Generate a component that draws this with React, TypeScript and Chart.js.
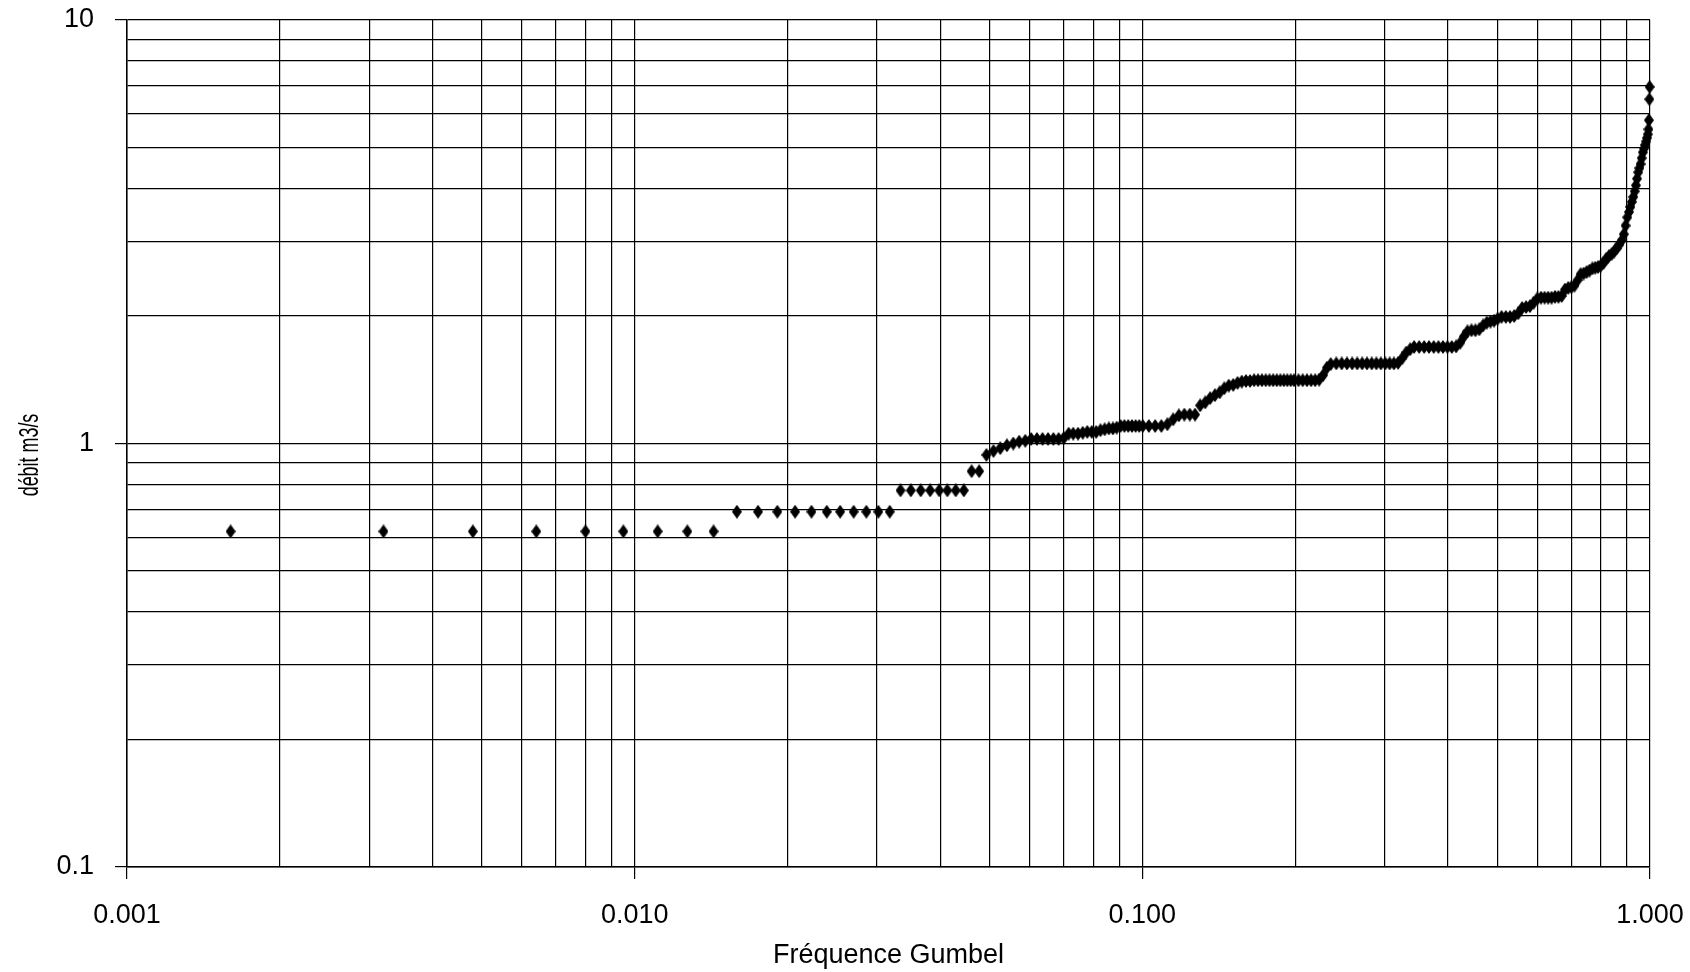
import React, { useEffect, useRef } from "react";
import { Chart, registerables } from "chart.js";
Chart.register(...registerables);

// Fréquence Gumbel (x)
const frequence = [
  0.0016, 0.0032, 0.0048, 0.0064, 0.008, 0.0095, 0.0111, 0.0127, 0.0143,
  0.0159, 0.0175, 0.0191, 0.0207, 0.0223, 0.0239, 0.0254, 0.027, 0.0286, 0.0302, 0.0318,
  0.0334, 0.035, 0.0366, 0.0382, 0.0398, 0.0413, 0.0429, 0.0445,
  0.0461, 0.0477,
  0.0493, 0.0509, 0.0525, 0.0541, 0.0557, 0.0572, 0.0588, 0.0604, 0.062, 0.0636,
  0.0652, 0.0668, 0.0684, 0.07, 0.0716, 0.0731, 0.0747, 0.0763, 0.0779, 0.0795,
  0.0811, 0.0827, 0.0843, 0.0859, 0.0875, 0.089, 0.0906, 0.0922, 0.0938, 0.0954,
  0.097, 0.0986, 0.1002,
  0.103, 0.106, 0.109, 0.112, 0.115, 0.118, 0.121, 0.124, 0.127, 0.13,
  0.133, 0.136, 0.139, 0.142, 0.145, 0.148, 0.151, 0.154, 0.157, 0.16,
  0.163, 0.166, 0.169, 0.172, 0.175, 0.178, 0.181, 0.184, 0.187, 0.19,
  0.193, 0.196, 0.199, 0.203, 0.207, 0.211, 0.215, 0.219, 0.223,
  0.227, 0.231, 0.235, 0.241, 0.247, 0.253, 0.259, 0.265, 0.271, 0.277,
  0.283, 0.289, 0.295, 0.301, 0.307, 0.313, 0.319, 0.325, 0.331, 0.337,
  0.343, 0.351, 0.359, 0.367, 0.375, 0.383, 0.391, 0.399, 0.407, 0.415,
  0.423, 0.43, 0.437, 0.445, 0.453, 0.461, 0.469, 0.477, 0.485, 0.493,
  0.501, 0.51, 0.52, 0.53, 0.54, 0.55, 0.56, 0.57, 0.58, 0.59,
  0.6, 0.61, 0.62, 0.63, 0.64, 0.65, 0.66, 0.67, 0.68, 0.69,
  0.7, 0.71, 0.72, 0.73, 0.74, 0.75, 0.76, 0.77, 0.78, 0.79,
  0.8, 0.81, 0.82, 0.83, 0.84, 0.85, 0.86, 0.87, 0.88, 0.888,
  0.895, 0.902, 0.909, 0.915, 0.921, 0.927, 0.933, 0.938, 0.943, 0.948,
  0.953, 0.958, 0.963, 0.968, 0.973, 0.978, 0.983, 0.987, 0.99, 0.993,
  0.995, 0.997, 0.9985,
];

// débit m3/s (y)
const debit = [
  0.62, 0.62, 0.62, 0.62, 0.62, 0.62, 0.62, 0.62, 0.62,
  0.69, 0.69, 0.69, 0.69, 0.69, 0.69, 0.69, 0.69, 0.69, 0.69, 0.69,
  0.775, 0.775, 0.775, 0.775, 0.775, 0.775, 0.775, 0.775,
  0.86, 0.86,
  0.94, 0.96, 0.975, 0.99, 1.0, 1.01, 1.015, 1.025, 1.025, 1.025,
  1.025, 1.025, 1.025, 1.03, 1.055, 1.055, 1.055, 1.06, 1.065, 1.065,
  1.065, 1.075, 1.08, 1.085, 1.085, 1.09, 1.1, 1.1, 1.1, 1.1,
  1.1, 1.1, 1.1,
  1.1, 1.1, 1.1, 1.11, 1.14, 1.165, 1.17, 1.17, 1.17, 1.23,
  1.25, 1.28, 1.3, 1.32, 1.35, 1.37, 1.375, 1.39, 1.4, 1.405,
  1.405, 1.41, 1.41, 1.41, 1.41, 1.41, 1.41, 1.41, 1.41, 1.41,
  1.41, 1.41, 1.41, 1.41, 1.41, 1.41, 1.41, 1.41, 1.415,
  1.45, 1.51, 1.54, 1.545, 1.545, 1.545, 1.545, 1.545, 1.545, 1.545,
  1.545, 1.545, 1.545, 1.545, 1.545, 1.545, 1.55, 1.59, 1.64, 1.67,
  1.69, 1.69, 1.69, 1.69, 1.69, 1.69, 1.69, 1.69, 1.69, 1.695,
  1.73, 1.79, 1.84, 1.85, 1.85, 1.86, 1.9, 1.93, 1.94, 1.95,
  1.97, 1.99, 1.99, 1.99, 2.0, 2.03, 2.09, 2.1, 2.11, 2.15,
  2.2, 2.21, 2.21, 2.21, 2.21, 2.22, 2.22, 2.23, 2.31, 2.33,
  2.34, 2.36, 2.43, 2.51, 2.52, 2.54, 2.56, 2.59, 2.6, 2.61,
  2.63, 2.67, 2.73, 2.77, 2.8, 2.84, 2.89, 2.95, 3.02, 3.12,
  3.27, 3.42, 3.52, 3.62, 3.72, 3.82, 3.94, 4.07, 4.22, 4.37,
  4.47, 4.57, 4.72, 4.87, 4.97, 5.07, 5.17, 5.27, 5.37, 5.52,
  5.8, 6.5, 6.95,
];

const xMajorTicks = [0.001, 0.01, 0.1, 1];
const xTickLabels = ["0.001", "0.010", "0.100", "1.000"];
const yMajorTicks = [0.1, 1, 10];
const yTickLabels = ["0.1", "1", "10"];

const xGridValues = [
  0.001, 0.002, 0.003, 0.004, 0.005, 0.006, 0.007, 0.008, 0.009,
  0.01, 0.02, 0.03, 0.04, 0.05, 0.06, 0.07, 0.08, 0.09,
  0.1, 0.2, 0.3, 0.4, 0.5, 0.6, 0.7, 0.8, 0.9, 1,
];
const yGridValues = [
  0.1, 0.2, 0.3, 0.4, 0.5, 0.6, 0.7, 0.8, 0.9,
  1, 2, 3, 4, 5, 6, 7, 8, 9, 10,
];

const xTitle = "Fréquence Gumbel";
const yTitle = "débit m3/s";

const isMajor = (list: number[], v: number) =>
  list.findIndex((m) => Math.abs(m - v) / m < 1e-6);

function makeDiamond(): HTMLCanvasElement {
  const c = document.createElement("canvas");
  c.width = 10;
  c.height = 14;
  const g = c.getContext("2d")!;
  g.fillStyle = "#000";
  g.beginPath();
  g.moveTo(5, 0);
  g.lineTo(10, 7);
  g.lineTo(5, 14);
  g.lineTo(0, 7);
  g.closePath();
  g.fill();
  return c;
}

// draws the condensed rotated y-axis title
const yTitlePlugin = {
  id: "yTitleCondensed",
  afterDraw(chart: any) {
    const ctx = chart.ctx;
    ctx.save();
    ctx.translate(30, 455);
    ctx.rotate(-Math.PI / 2);
    ctx.scale(0.64, 1);
    ctx.font = '28px "Liberation Sans", Arial, sans-serif';
    ctx.fillStyle = "#000";
    ctx.textAlign = "center";
    ctx.textBaseline = "middle";
    ctx.fillText(yTitle, 0, 0);
    ctx.restore();
  },
};

export default function App() {
  const ref = useRef<HTMLCanvasElement | null>(null);

  useEffect(() => {
    document.body.style.margin = "0";
    document.body.style.overflow = "hidden";
    const canvas = ref.current;
    if (!canvas) return;
    const diamond = makeDiamond();
    const points = frequence.map((f, i) => ({ x: f, y: debit[i] }));
    const tickFont = { family: '"Liberation Sans", Arial, sans-serif', size: 27 };

    const chart = new Chart(canvas, {
      type: "scatter",
      data: {
        datasets: [
          {
            data: points,
            pointStyle: diamond as any,
            backgroundColor: "#000",
            borderColor: "#000",
            clip: false as any,
          },
        ],
      },
      options: {
        animation: false,
        responsive: false,
        maintainAspectRatio: false,
        layout: { padding: { top: 20, right: 40, left: 0, bottom: 0 } },
        plugins: {
          legend: { display: false },
          tooltip: { enabled: false },
        },
        scales: {
          x: {
            type: "logarithmic",
            min: 0.001,
            max: 1,
            afterBuildTicks: (scale: any) => {
              scale.ticks = xGridValues.map((v) => ({ value: v, major: isMajor(xMajorTicks, v) >= 0 }));
            },
            afterFit: (scale: any) => {
              scale.height = 105;
              scale.paddingLeft = 0;
              scale.paddingRight = 0;
            },
            ticks: {
              autoSkip: false,
              maxRotation: 0,
              minRotation: 0,
              padding: 20,
              color: "#000",
              font: tickFont,
              callback: (value: any) => {
                const i = isMajor(xMajorTicks, Number(value));
                return i >= 0 ? xTickLabels[i] : "";
              },
            },
            grid: {
              color: "#000",
              lineWidth: 1.2,
              tickLength: 12,
              tickColor: (ctx: any) =>
                ctx.tick && isMajor(xMajorTicks, ctx.tick.value) >= 0 ? "#000" : "rgba(0,0,0,0)",
            },
            border: { display: true, color: "#000", width: 1.5 },
            title: {
              display: true,
              text: xTitle,
              color: "#000",
              font: { family: '"Liberation Sans", Arial, sans-serif', size: 27 },
              padding: { top: 0, bottom: 0 },
            },
          },
          y: {
            type: "logarithmic",
            min: 0.1,
            max: 10,
            afterBuildTicks: (scale: any) => {
              scale.ticks = yGridValues.map((v) => ({ value: v, major: isMajor(yMajorTicks, v) >= 0 }));
            },
            afterFit: (scale: any) => {
              scale.width = 127;
              scale.paddingTop = 0;
              scale.paddingBottom = 0;
            },
            ticks: {
              autoSkip: false,
              padding: 21,
              color: "#000",
              font: tickFont,
              callback: (value: any) => {
                const i = isMajor(yMajorTicks, Number(value));
                return i >= 0 ? yTickLabels[i] : "";
              },
            },
            grid: {
              color: "#000",
              lineWidth: 1.2,
              tickLength: 12,
              tickColor: (ctx: any) =>
                ctx.tick && isMajor(yMajorTicks, ctx.tick.value) >= 0 ? "#000" : "rgba(0,0,0,0)",
            },
            border: { display: true, color: "#000", width: 1.5 },
            title: { display: false, text: yTitle },
          },
        },
      } as any,
      plugins: [yTitlePlugin],
    });
    return () => chart.destroy();
  }, []);

  return (
    <div style={{ width: 1690, height: 972 }}>
      <canvas ref={ref} width={1690} height={972} style={{ display: "block", width: 1690, height: 972 }} />
    </div>
  );
}
